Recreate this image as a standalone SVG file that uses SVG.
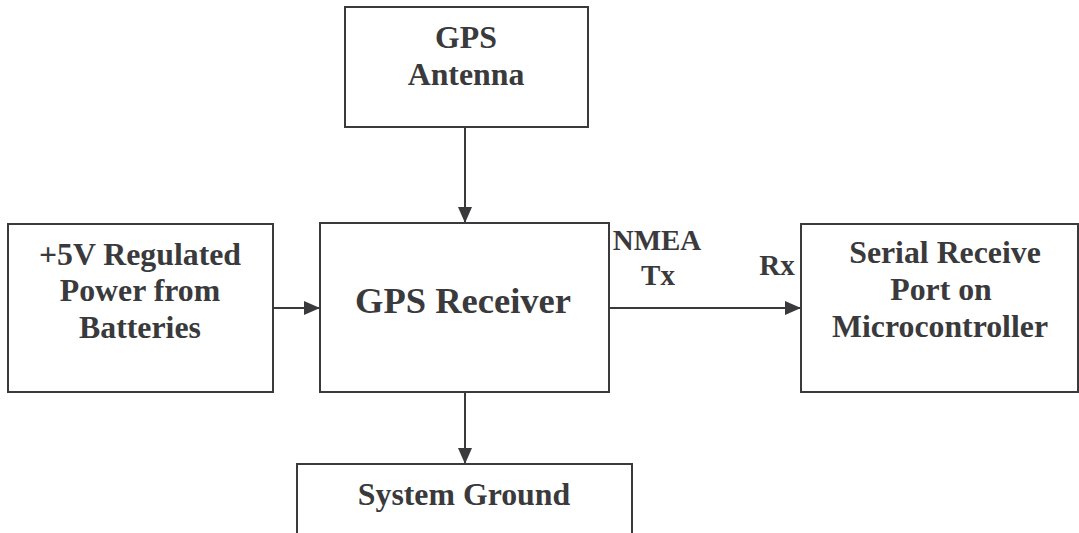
<svg xmlns="http://www.w3.org/2000/svg" width="1079" height="533" viewBox="0 0 1079 533">
<style>
.box{fill:#fff;stroke:#3a3a3c;stroke-width:2}
.c{stroke:#3a3a3c;stroke-width:2;fill:none;marker-end:url(#ah)}
</style>
<defs>
<marker id="ah" markerUnits="userSpaceOnUse" markerWidth="17" markerHeight="14" refX="16" refY="7" orient="auto">
<path d="M0,0 L16,7 L0,14 Z" fill="#3a3a3c"/>
</marker>
</defs>
<rect width="1079" height="533" fill="#fff"/>
<g id="connectors">
<line class="c" x1="465" y1="127" x2="465" y2="223"/>
<line class="c" x1="273" y1="308" x2="320" y2="308"/>
<line class="c" x1="609" y1="308" x2="801" y2="308"/>
<line class="c" x1="465" y1="392" x2="465" y2="464"/>
</g>
<g id="antenna">
<rect class="box" x="345" y="7" width="243" height="120"/>
<text x="466" y="48" font-family="Liberation Serif" font-weight="bold" font-size="31.8" fill="#3a3a3c" text-anchor="middle">GPS</text>
<text x="466" y="85" font-family="Liberation Serif" font-weight="bold" font-size="31.8" fill="#3a3a3c" text-anchor="middle">Antenna</text>
</g>
<g id="power">
<rect class="box" x="8" y="224" width="265" height="168"/>
<text x="140" y="265" font-family="Liberation Serif" font-weight="bold" font-size="31.8" fill="#3a3a3c" text-anchor="middle">+5V Regulated</text>
<text x="140" y="301" font-family="Liberation Serif" font-weight="bold" font-size="31.8" fill="#3a3a3c" text-anchor="middle">Power from</text>
<text x="140" y="338" font-family="Liberation Serif" font-weight="bold" font-size="31.8" fill="#3a3a3c" text-anchor="middle">Batteries</text>
</g>
<g id="receiver">
<rect class="box" x="320" y="223" width="289" height="169"/>
<text x="463" y="313" font-family="Liberation Serif" font-weight="bold" font-size="36.5" fill="#3a3a3c" text-anchor="middle">GPS Receiver</text>
</g>
<g id="labels">
<text x="657" y="250" font-family="Liberation Serif" font-weight="bold" font-size="29" fill="#3a3a3c" text-anchor="middle">NMEA</text>
<text x="658" y="285" font-family="Liberation Serif" font-weight="bold" font-size="29" fill="#3a3a3c" text-anchor="middle">Tx</text>
<text x="777" y="275" font-family="Liberation Serif" font-weight="bold" font-size="29" fill="#3a3a3c" text-anchor="middle">Rx</text>
</g>
<g id="serial">
<rect class="box" x="801" y="224" width="277" height="168"/>
<text x="945" y="263" font-family="Liberation Serif" font-weight="bold" font-size="31.8" fill="#3a3a3c" text-anchor="middle">Serial Receive</text>
<text x="941" y="300" font-family="Liberation Serif" font-weight="bold" font-size="31.8" fill="#3a3a3c" text-anchor="middle">Port on</text>
<text x="940" y="337" font-family="Liberation Serif" font-weight="bold" font-size="31.8" fill="#3a3a3c" text-anchor="middle">Microcontroller</text>
</g>
<g id="ground">
<rect class="box" x="297" y="464" width="335" height="80"/>
<text x="464" y="505" font-family="Liberation Serif" font-weight="bold" font-size="31.8" fill="#3a3a3c" text-anchor="middle">System Ground</text>
</g>
</svg>
